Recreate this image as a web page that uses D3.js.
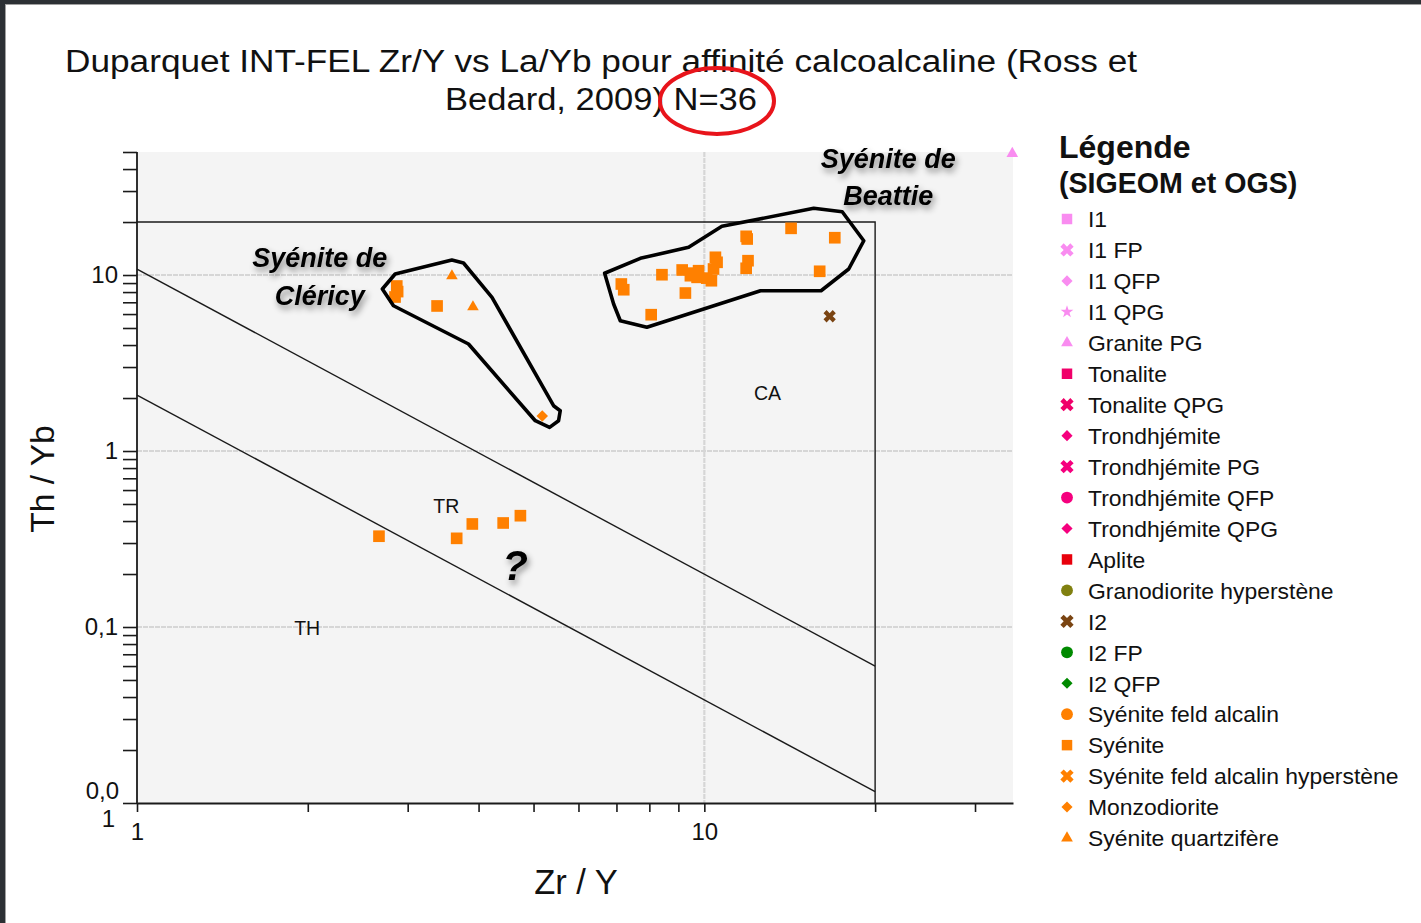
<!DOCTYPE html>
<html>
<head>
<meta charset="utf-8">
<script src="https://cdn.jsdelivr.net/npm/d3@7"></script>
<style>
  html, body { margin: 0; padding: 0; background: #fff; }
  svg { display: block; }
  text { font-family: "Liberation Sans", Arial, Helvetica, sans-serif; }
</style>
</head>
<body>
<svg id="chart" width="1421" height="923"></svg>
<script>
// ---------------- DATA ----------------
const titleLines = ["Duparquet INT-FEL Zr/Y vs La/Yb pour affinité calcoalcaline (Ross et", "Bedard, 2009) N=36"];
const titleWidths = [1072, 312];
const xLabel = "Zr / Y";
const yLabel = "Th / Yb";
const xDomain = [1, 35];
const yDomain = [0.01, 50];
const xTickValues = [1, 2, 3, 4, 5, 6, 7, 8, 9, 10, 20, 30];
const xTickLabels = {1: "1", 10: "10"};
const yTickValues = [0.01,0.02,0.03,0.04,0.05,0.06,0.07,0.08,0.09,0.1,0.2,0.3,0.4,0.5,0.6,0.7,0.8,0.9,1,2,3,4,5,6,7,8,9,10,20,30,40,50];
const yTickLabels = {0.1: "0,1", 1: "1", 10: "10"};
const gridX = [10];
const gridY = [0.1, 1, 10];

// Zr/Y, Th/Yb
const syenite = [
  [2.87, 8.66], [2.85, 7.50], [2.88, 8.05], [3.38, 6.67],
  [7.14, 8.89], [7.21, 8.25], [8.42, 10.04], [9.14, 10.68], [9.26, 7.90], [8.06, 5.95],
  [9.45, 9.91], [9.55, 10.25], [9.77, 10.58], [9.71, 9.70], [10.29, 9.28], [10.10, 9.60],
  [10.38, 10.82], [10.46, 12.61], [10.53, 11.81], [11.85, 16.59], [11.90, 16.02],
  [11.94, 12.06], [11.85, 10.92], [14.22, 18.42], [16.98, 16.29], [15.97, 10.50],
  [2.67, 0.328], [3.66, 0.319], [3.90, 0.385], [4.42, 0.390], [4.74, 0.429]
];
const syeniteQuartz = [[3.59, 9.87], [3.91, 6.58]];
const monzodiorite = [[5.18, 1.58]];
const i2 = [[16.63, 5.83]];
const granitePG = [[34.9, 49]];

// field boundaries (Ross & Bédard 2009)
const lineCATR = [[1, 10.8], [20, 0.06]];
const lineTRTH = [[1, 2.08], [20, 0.0116]];
const boxCA = [[1, 20], [20, 20], [20, 0.01]];
const fieldLabels = [["CA", 12.92, 2.14], ["TR", 3.51, 0.487], ["TH", 1.995, 0.0987]];

// hand-drawn group outlines
const polyClericy = [[2.707, 8.33], [2.851, 10.13], [3.589, 12.17], [3.763, 11.70], [4.224, 7.47],
  [5.423, 1.809], [5.572, 1.694], [5.534, 1.486], [5.336, 1.363], [5.035, 1.486], [3.840, 4.055], [2.832, 6.69]];
const polyBeattie = [[6.672, 10.23], [7.712, 12.44], [9.383, 14.37], [10.74, 18.91], [15.59, 23.93],
  [17.50, 22.89], [19.10, 15.66], [17.97, 10.82], [16.06, 8.14], [12.56, 8.14], [7.92, 5.045],
  [7.11, 5.50], [6.92, 6.84]];
const annotations = [
  ["Syénite de", 2.10, 12.5], ["Cléricy", 2.10, 7.6],
  ["Syénite de", 21.1, 45.6], ["Beattie", 21.1, 28.1]
];
const questionMark = ["?", 4.64, 0.225];

// legend
const legendTitle = ["Légende", "(SIGEOM et OGS)"];
const legendNames = ["I1", "I1 FP", "I1 QFP", "I1 QPG", "Granite PG", "Tonalite", "Tonalite QPG",
  "Trondhjémite", "Trondhjémite PG", "Trondhjémite QFP", "Trondhjémite QPG", "Aplite",
  "Granodiorite hyperstène", "I2", "I2 FP", "I2 QFP", "Syénite feld alcalin", "Syénite",
  "Syénite feld alcalin hyperstène", "Monzodiorite", "Syénite quartzifère"];
const legendShapes = ["square", "cross", "diamond", "star", "triangle", "square", "cross",
  "diamond", "cross", "circle", "diamond", "square", "circle", "cross", "circle", "diamond",
  "circle", "square", "cross", "diamond", "triangle"];
const legendColors = ["#f98cf0", "#f98cf0", "#f98cf0", "#f98cf0", "#f98cf0", "#f0006a", "#f0006a",
  "#f5007e", "#f5007e", "#f5007e", "#f5007e", "#e8000c", "#808010", "#7a4412", "#008a00", "#008a00",
  "#ff8000", "#ff8000", "#ff8000", "#ff8000", "#ff8000"];

// ---------------- DRAW ----------------
const svg = d3.select("#chart");
const W = 1421, H = 923;
const plot = {left: 137, right: 1013, top: 152, bottom: 803};

const x = d3.scaleLog().domain(xDomain).range([plot.left, plot.right]);
const y = d3.scaleLog().domain(yDomain).range([plot.bottom, plot.top]);

// frame
svg.append("rect").attr("x", 0).attr("y", 0).attr("width", W).attr("height", H).attr("fill", "#fff");
svg.append("rect").attr("x", 0).attr("y", 0).attr("width", W).attr("height", 4).attr("fill", "#2c3034");
svg.append("rect").attr("x", 0).attr("y", 0).attr("width", 5).attr("height", H).attr("fill", "#2c3034");
svg.append("line").attr("x1", 5).attr("x2", W).attr("y1", 4.5).attr("y2", 4.5).attr("stroke", "#a0a0a0").attr("stroke-width", 1);
svg.append("line").attr("x1", 5.5).attr("x2", 5.5).attr("y1", 4).attr("y2", H).attr("stroke", "#a0a0a0").attr("stroke-width", 1);

// defs: shadow
const defs = svg.append("defs");
const f = defs.append("filter").attr("id", "shadow").attr("x", "-20%").attr("y", "-40%").attr("width", "150%").attr("height", "190%");
f.append("feDropShadow").attr("dx", 2).attr("dy", 4).attr("stdDeviation", 3).attr("flood-color", "#000").attr("flood-opacity", 0.45);

// title
svg.append("g").selectAll("text").data(titleLines).join("text")
  .attr("x", 601).attr("y", (d, i) => 72 + i * 38)
  .attr("text-anchor", "middle").attr("font-size", 31).attr("fill", "#111")
  .attr("textLength", (d, i) => titleWidths[i]).attr("lengthAdjust", "spacingAndGlyphs")
  .text(d => d);
svg.append("ellipse").attr("cx", 717).attr("cy", 101).attr("rx", 57).attr("ry", 33)
  .attr("fill", "none").attr("stroke", "#e8141b").attr("stroke-width", 4);

// plot background
svg.append("rect").attr("x", plot.left).attr("y", plot.top)
  .attr("width", plot.right - plot.left).attr("height", plot.bottom - plot.top).attr("fill", "#f4f4f4");

// grid
const grid = svg.append("g").attr("stroke", "#d6d6d6").attr("stroke-width", 2.2).attr("stroke-dasharray", "5 1");
grid.selectAll("line.gy").data(gridY).join("line").attr("class", "gy")
  .attr("x1", plot.left).attr("x2", plot.right).attr("y1", d => y(d)).attr("y2", d => y(d));
grid.selectAll("line.gx").data(gridX).join("line").attr("class", "gx")
  .attr("y1", plot.top).attr("y2", plot.bottom).attr("x1", d => x(d)).attr("x2", d => x(d));

// field boundaries
const line = d3.line().x(d => x(d[0])).y(d => y(d[1]));
const bg = svg.append("g").attr("fill", "none").attr("stroke", "#1a1a1a").attr("stroke-width", 1.4);
[lineCATR, lineTRTH, boxCA].forEach(l => bg.append("path").attr("d", line(l)));

svg.append("g").selectAll("text").data(fieldLabels).join("text")
  .attr("x", d => x(d[1])).attr("y", d => y(d[2])).attr("dy", "0.36em")
  .attr("text-anchor", "middle").attr("font-size", 19.5).attr("fill", "#111").text(d => d[0]);

// axes
const yAxis = d3.axisLeft(y).tickValues(yTickValues).tickSize(14).tickSizeOuter(0).tickPadding(5)
  .tickFormat(d => yTickLabels[d] || "");
const gy = svg.append("g").attr("transform", `translate(${plot.left},0)`).call(yAxis);
const xAxis = d3.axisBottom(x).tickValues(xTickValues).tickSize(9).tickSizeOuter(0).tickPadding(11)
  .tickFormat(d => xTickLabels[d] || "");
const gx = svg.append("g").attr("transform", `translate(0,${plot.bottom})`).call(xAxis);
[gx, gy].forEach(g => {
  g.select(".domain").attr("stroke", "#1a1a1a").attr("stroke-width", 1.8);
  g.selectAll(".tick line").attr("stroke", "#1a1a1a").attr("stroke-width", 1.6);
  g.selectAll(".tick text").attr("font-size", 24).attr("fill", "#111")
    .attr("font-family", "'Liberation Sans', Arial, sans-serif");
});
// wrapped label "0,01"
gy.selectAll(".tick").filter(d => d === 0.01).select("text")
  .text(null).attr("dy", null)
  .call(t => {
    t.append("tspan").attr("x", -18).attr("y", -5).text("0,0");
    t.append("tspan").attr("x", -22).attr("y", 23).text("1");
  });
gy.select(".domain").attr("d", `M0,${plot.top}V${plot.bottom}`);

// axis titles
svg.append("text").attr("x", 576).attr("y", 894).attr("text-anchor", "middle")
  .attr("font-size", 34.5).attr("fill", "#111").text(xLabel);
svg.append("text").attr("transform", "translate(54,479) rotate(-90)").attr("text-anchor", "middle")
  .attr("font-size", 33.5).attr("fill", "#111").text(yLabel);

// symbol helper
function symPath(shape, size) {
  const map = {square: d3.symbolSquare, cross: d3.symbolCross, diamond: d3.symbolSquare,
    star: d3.symbolStar, triangle: d3.symbolTriangle, circle: d3.symbolCircle};
  return d3.symbol().type(map[shape]).size(size)();
}
function symRot(shape) { return (shape === "cross" || shape === "diamond") ? 45 : 0; }

// points
const series = [
  [syenite, "square", 136, "#ff8000"],
  [syeniteQuartz, "triangle", 58, "#ff8000"],
  [monzodiorite, "diamond", 66, "#ff8000"],
  [i2, "cross", 95, "#7a4412"],
  [granitePG, "triangle", 58, "#f98cf0"]
];
const pts = svg.append("g");
series.forEach(([data, shape, size, color]) => {
  pts.append("g").selectAll("path").data(data).join("path")
    .attr("d", symPath(shape, size))
    .attr("transform", d => `translate(${x(d[0])},${y(d[1])}) rotate(${symRot(shape)})`)
    .attr("fill", color);
});

// group outlines
const closed = d3.line().x(d => x(d[0])).y(d => y(d[1])).curve(d3.curveLinearClosed);
const og = svg.append("g").attr("fill", "none").attr("stroke", "#000").attr("stroke-width", 3.6)
  .attr("stroke-linejoin", "round");
[polyClericy, polyBeattie].forEach(p => og.append("path").attr("d", closed(p)));

// annotations
svg.append("g").attr("filter", "url(#shadow)").selectAll("text").data(annotations).join("text")
  .attr("x", d => x(d[1])).attr("y", d => y(d[2])).attr("dy", "0.35em")
  .attr("text-anchor", "middle").attr("font-size", 27).attr("font-weight", "bold")
  .attr("font-style", "italic").attr("fill", "#000").text(d => d[0]);
svg.append("text").attr("filter", "url(#shadow)")
  .attr("x", x(questionMark[1])).attr("y", y(questionMark[2])).attr("dy", "0.35em")
  .attr("text-anchor", "middle").attr("font-size", 42).attr("font-weight", "bold")
  .attr("font-style", "italic").attr("fill", "#000").text(questionMark[0]);

// legend
const lg = svg.append("g");
lg.append("text").attr("x", 1059).attr("y", 158).attr("font-size", 32).attr("font-weight", "bold")
  .attr("fill", "#111").text(legendTitle[0]);
lg.append("text").attr("x", 1059).attr("y", 193).attr("font-size", 28.6).attr("font-weight", "bold")
  .attr("fill", "#111").text(legendTitle[1]);
const rows = lg.selectAll("g.row").data(legendNames).join("g").attr("class", "row")
  .attr("transform", (d, i) => `translate(0,${219 + i * 30.95})`);
rows.append("path")
  .attr("d", (d, i) => {
    const s = legendShapes[i];
    const size = {square: 110, cross: 110, diamond: 62, star: 50, triangle: 60, circle: 110}[s];
    return symPath(s, size);
  })
  .attr("transform", (d, i) => `translate(1067,0) rotate(${symRot(legendShapes[i])})`)
  .attr("fill", (d, i) => legendColors[i]);
rows.append("text").attr("x", 1088).attr("dy", "0.36em").attr("font-size", 22.9)
  .attr("fill", "#111").text(d => d);
</script>
</body>
</html>
